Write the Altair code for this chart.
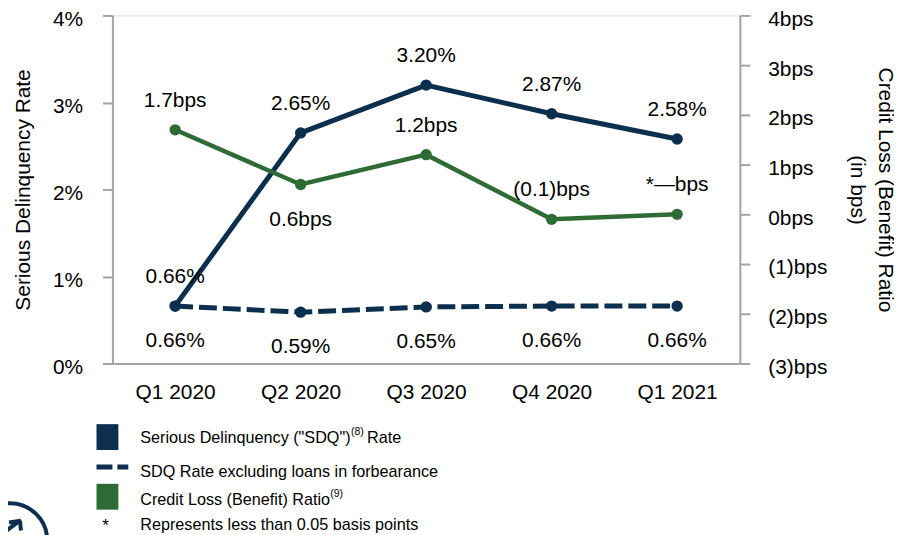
import altair as alt
import pandas as pd

quarters = ["Q1 2020", "Q2 2020", "Q3 2020", "Q4 2020", "Q1 2021"]
sdq = [0.66, 2.65, 3.20, 2.87, 2.58]
sdq_labels = ["0.66%", "2.65%", "3.20%", "2.87%", "2.58%"]
sdq_ex = [0.66, 0.59, 0.65, 0.66, 0.66]
sdq_ex_labels = ["0.66%", "0.59%", "0.65%", "0.66%", "0.66%"]
clr = [1.7, 0.6, 1.2, -0.1, 0.0]
clr_labels = ["1.7bps", "0.6bps", "1.2bps", "(0.1)bps", "*\u2014bps"]
clr_below = ["Q2 2020"]

left_ticks = [0, 1, 2, 3, 4]
right_ticks = [-3, -2, -1, 0, 1, 2, 3, 4]

NAVY = "#0b2f4d"
GREEN = "#2e6b35"
GRAY = "#a3a3a3"
FONT = "Liberation Sans"
FS = 21
LFS = 16.3

df = pd.DataFrame({
    "quarter": quarters,
    "sdq": sdq, "sdq_label": sdq_labels,
    "sdq_ex": sdq_ex, "sdq_ex_label": sdq_ex_labels,
    "clr": clr, "clr_label": clr_labels,
})
one = pd.DataFrame({"k": [0]})

W, H = 631, 350

x = alt.X("quarter:N", sort=quarters, title=None,
          scale=alt.Scale(paddingInner=0, paddingOuter=0.5),
          axis=alt.Axis(labelAngle=0, ticks=False, labelPadding=18, labelFontSize=FS,
                        labelFont=FONT, labelColor="#000", domainColor=GRAY, domainWidth=2))

left_axis = alt.Axis(title="Serious Delinquency Rate", values=left_ticks, labelExpr="datum.value + '%'",
                     grid=False, tickSize=10, tickColor=GRAY, tickWidth=2, domainColor=GRAY, domainWidth=2,
                     labelPadding=20, labelFontSize=FS, labelFont=FONT, labelColor="#000",
                     labelOffset=4, titleFont=FONT, titleFontSize=FS, titleFontWeight="normal",
                     titleColor="#000", titlePadding=19)
lscale = alt.Scale(domain=[0, 4], nice=False)
yl = alt.Y("sdq:Q", scale=lscale, axis=left_axis)
yl2 = alt.Y("sdq_ex:Q", scale=lscale, axis=left_axis)

base = alt.Chart(df)

sdq_line = base.mark_line(color=NAVY, strokeWidth=5).encode(x=x, y=yl)
sdq_pts = base.mark_circle(color=NAVY, size=130, opacity=1).encode(x=x, y=yl)
sdq_txt = base.mark_text(dy=-29, fontSize=FS, font=FONT, color="#000").encode(x=x, y=yl, text="sdq_label:N")

ex_line = base.mark_line(color=NAVY, strokeWidth=5, strokeDash=[18, 6]).encode(x=x, y=yl2)
ex_pts = base.mark_circle(color=NAVY, size=130, opacity=1).encode(x=x, y=yl2)
ex_txt = base.mark_text(dy=35, fontSize=FS, font=FONT, color="#000").encode(x=x, y=yl2, text="sdq_ex_label:N")

# legend and logo (decoration in pixel space, relative to plot origin)
deco = alt.Chart(one)
leg_items = [
    deco.mark_rect(color=NAVY).encode(x=alt.value(-16), x2=alt.value(6), y=alt.value(411), y2=alt.value(437)),
    deco.mark_rect(color=GREEN).encode(x=alt.value(-16), x2=alt.value(6), y=alt.value(471), y2=alt.value(497)),
    deco.mark_rule(color=NAVY, strokeWidth=5, strokeDash=[16, 5]).encode(
        x=alt.value(-16), x2=alt.value(16), y=alt.value(454)),
]
legend_text = [
    ("Serious Delinquency (\"SDQ\")", 28, 425, LFS),
    ("(8)", 240, 419, 10.5),
    ("Rate", 256, 425, LFS),
    ("SDQ Rate excluding loans in forbearance", 28, 459, LFS),
    ("Credit Loss (Benefit) Ratio", 28, 487, LFS),
    ("(9)", 219, 481, 10.5),
    ("Represents less than 0.05 basis points", 28, 512, LFS),
]
for t, lx, ly, fs in legend_text:
    leg_items.append(deco.mark_text(text=t, align="left", baseline="middle", fontSize=fs,
                                    font=FONT, color="#000").encode(x=alt.value(lx), y=alt.value(ly)))
leg_items.append(deco.mark_text(text="*", align="center", baseline="middle", fontSize=17,
                                font=FONT, color="#000").encode(x=alt.value(-7), y=alt.value(513)))
leg_items.append(deco.mark_point(shape="circle", filled=False, color=NAVY, strokeWidth=4,
                                 size=5600, opacity=1).encode(x=alt.value(-103), y=alt.value(528)))
leg_items.append(deco.mark_rule(color=NAVY, strokeWidth=4).encode(
    x=alt.value(-113), x2=alt.value(-93), y=alt.value(523), y2=alt.value(508)))
leg_items.append(deco.mark_rule(color=NAVY, strokeWidth=4).encode(
    x=alt.value(-104), x2=alt.value(-92), y=alt.value(510), y2=alt.value(508)))
leg_items.append(deco.mark_rule(color=NAVY, strokeWidth=4).encode(
    x=alt.value(-93), x2=alt.value(-92), y=alt.value(508), y2=alt.value(518)))

left = alt.layer(sdq_line, ex_line, sdq_pts, ex_pts, sdq_txt, ex_txt)

right_axis = alt.Axis(orient="right", title=["Credit Loss (Benefit) Ratio", "(in bps)"], values=right_ticks,
                      labelExpr="datum.value < 0 ? '(' + (-datum.value) + ')bps' : datum.value + 'bps'",
                      grid=False, tickSize=10, tickColor=GRAY, tickWidth=2, domainColor=GRAY, domainWidth=2,
                      labelPadding=18, labelFontSize=FS, labelFont=FONT, labelColor="#000",
                      labelOffset=4, titleFont=FONT, titleFontSize=FS, titleFontWeight="normal",
                      titleColor="#000", titlePadding=20, titleLineHeight=28)
yr = alt.Y("clr:Q", scale=alt.Scale(domain=[-3, 4], nice=False), axis=right_axis)

clr_line = base.mark_line(color=GREEN, strokeWidth=4.5).encode(x=x, y=yr)
clr_pts = base.mark_circle(color=GREEN, size=130, opacity=1).encode(x=x, y=yr)
clr_txt_above = base.mark_text(dy=-29, fontSize=FS, font=FONT, color="#000").encode(
    x=x, y=yr, text="clr_label:N").transform_filter(
    ~alt.FieldOneOfPredicate(field="quarter", oneOf=clr_below))
clr_txt_below = base.mark_text(dy=36, fontSize=FS, font=FONT, color="#000").encode(
    x=x, y=yr, text="clr_label:N").transform_filter(
    alt.FieldOneOfPredicate(field="quarter", oneOf=clr_below))

right = alt.layer(clr_line, clr_pts, clr_txt_above, clr_txt_below)

chart = alt.layer(left, right, *leg_items).resolve_scale(y="independent").properties(
    width=W, height=H,
    autosize=alt.AutoSizeParams(type="none"),
    padding={"left": 105, "top": 6, "right": 155, "bottom": 171},
).configure_view(stroke=None).configure(background="white")

chart.save("out.html", embed_options={"renderer": "svg", "actions": False})
